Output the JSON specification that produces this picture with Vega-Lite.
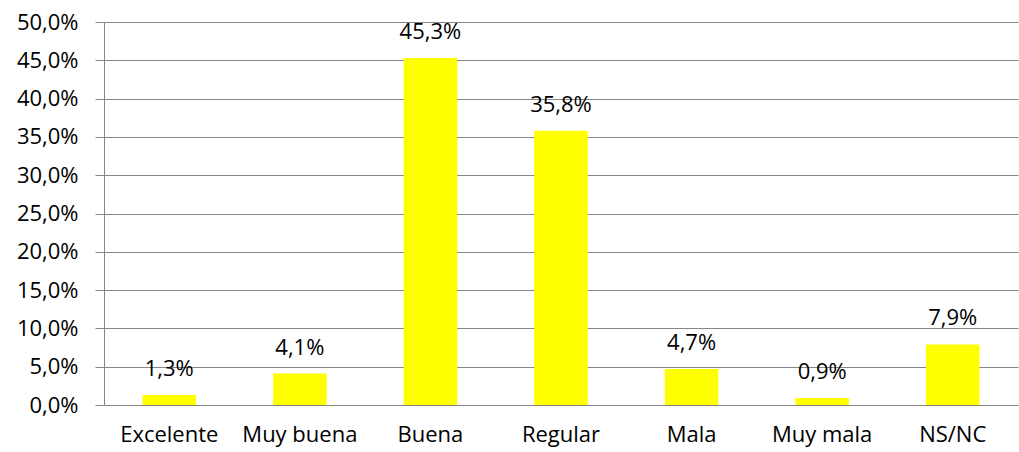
{
  "$schema": "https://vega.github.io/schema/vega-lite/v6.json",
  "width": 914,
  "height": 383,
  "autosize": {"type": "none"},
  "padding": {"left": 104, "top": 22, "right": 1, "bottom": 47},
  "background": "white",
  "config": {
    "locale": {"number": {"decimal": ",", "thousands": ".", "grouping": [3], "currency": ["", " €"]}},
    "view": {"stroke": null},
    "font": "Open Sans"
  },
  "data": {
    "values": [
      {"categoria": "Excelente", "valor": 0.013},
      {"categoria": "Muy buena", "valor": 0.041},
      {"categoria": "Buena", "valor": 0.453},
      {"categoria": "Regular", "valor": 0.358},
      {"categoria": "Mala", "valor": 0.047},
      {"categoria": "Muy mala", "valor": 0.009},
      {"categoria": "NS/NC", "valor": 0.079}
    ]
  },
  "encoding": {
    "x": {
      "field": "categoria",
      "type": "nominal",
      "sort": null,
      "scale": {"paddingInner": 0.59, "paddingOuter": 0.295},
      "axis": {
        "title": null,
        "labelAngle": 0,
        "labelFontSize": 22,
        "labelColor": "#000000",
        "labelBaseline": "alphabetic",
        "labelPadding": 36,
        "ticks": false,
        "domain": false
      }
    },
    "y": {
      "field": "valor",
      "type": "quantitative",
      "scale": {"domain": [0, 0.5], "nice": false},
      "axis": {
        "title": null,
        "format": ".1%",
        "values": [0, 0.05, 0.1, 0.15, 0.2, 0.25, 0.3, 0.35, 0.4, 0.45, 0.5],
        "labelFontSize": 22,
        "labelColor": "#000000",
        "labelPadding": 17,
        "tickSize": 9,
        "tickColor": "#868686",
        "domainColor": "#868686",
        "gridColor": "#868686",
        "grid": true
      }
    }
  },
  "layer": [
    {"mark": {"type": "bar", "color": "#FFFF00"}},
    {
      "mark": {"type": "text", "baseline": "alphabetic", "dy": -19, "fontSize": 22, "color": "#000000"},
      "encoding": {"text": {"field": "valor", "type": "quantitative", "format": ".1%"}}
    }
  ]
}
